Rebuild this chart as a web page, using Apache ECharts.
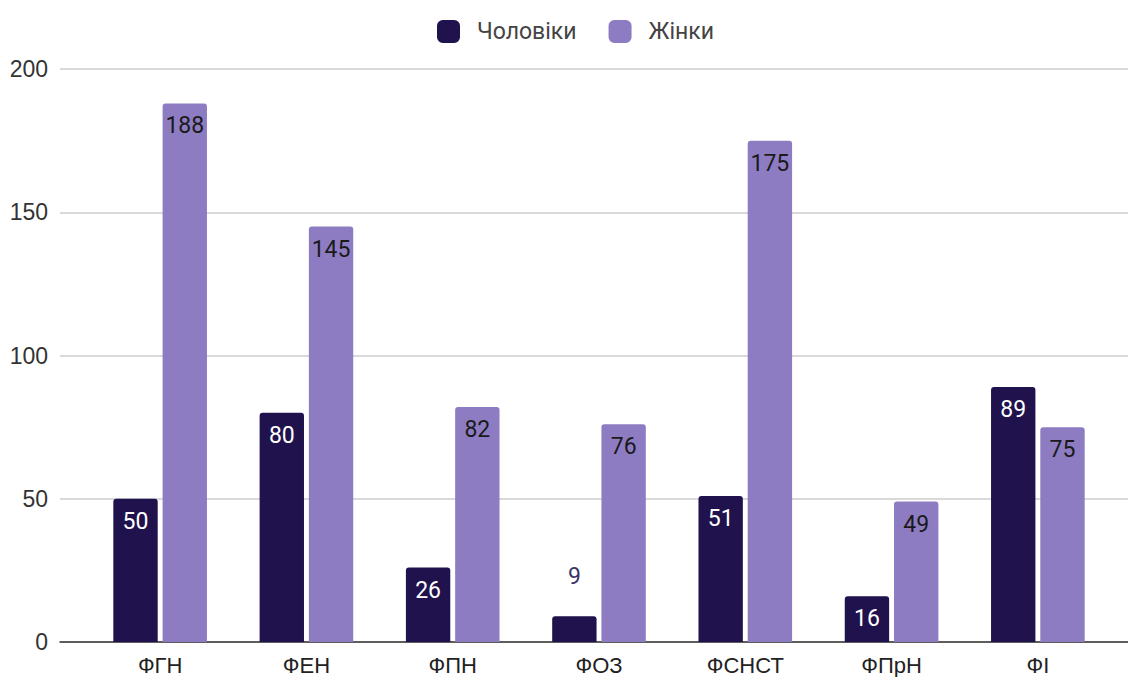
<!DOCTYPE html>
<html>
<head>
<meta charset="utf-8">
<script src="https://cdn.jsdelivr.net/npm/echarts@6/dist/echarts.min.js"></script>
<style>
  html, body { margin: 0; padding: 0; background: #fff; }
  #chart { width: 1128px; height: 677px; }
</style>
</head>
<body>
<div id="chart"></div>
<script>
var categories = ['ФГН', 'ФЕН', 'ФПН', 'ФОЗ', 'ФСНСТ', 'ФПрН', 'ФІ'];
var men = [50, 80, 26, 9, 51, 16, 89];
var women = [188, 145, 82, 76, 175, 49, 75];
var seriesNames = ['Чоловіки', 'Жінки'];

var dark = '#20124d';
var light = '#8e7cc3';
var font = 'Roboto, "Noto Sans", sans-serif';
var axisFont = '"Liberation Sans", Arial, sans-serif';

// short bars get their label above the bar
function toData(values, color, textColor) {
  return values.map(function(v) {
    if (v < 12) {
      return { value: v, label: { position: 'top', distance: 28, color: '#3a3366' } };
    }
    return { value: v, label: { color: textColor } };
  });
}

var chart = echarts.init(document.getElementById('chart'), null, { renderer: 'svg' });
chart.setOption({
  animation: false,
  textStyle: { fontFamily: font },
  legend: {
    data: seriesNames,
    top: 15,
    left: 432,
    itemWidth: 23,
    itemHeight: 23,
    itemGap: 32,
    icon: 'roundRect',
    textStyle: { color: '#444', fontSize: 23, fontFamily: font, padding: [0, 0, 0, 12] }
  },
  grid: [
    { left: 87, right: 17, top: 69, bottom: 35 },
    { left: 60, right: 0, top: 69, bottom: 35 }
  ],
  xAxis: [
    {
      gridIndex: 0,
      type: 'category',
      data: categories,
      axisLine: { show: false },
      axisTick: { show: false },
      axisLabel: { color: '#222', fontSize: 22, margin: 12, fontFamily: axisFont }
    },
    {
      gridIndex: 1,
      type: 'value',
      min: 0, max: 1,
      axisLine: { show: true, lineStyle: { color: '#333', width: 1.5 } },
      axisTick: { show: false },
      axisLabel: { show: false },
      splitLine: { show: false }
    }
  ],
  yAxis: [
    {
      gridIndex: 0,
      type: 'value', min: 0, max: 200, interval: 50,
      show: false,
      splitLine: { show: false }
    },
    {
      gridIndex: 1,
      type: 'value', min: 0, max: 200, interval: 50,
      axisLine: { show: false },
      axisTick: { show: false },
      axisLabel: { color: '#333', fontSize: 23, margin: 12, fontFamily: axisFont },
      splitLine: { lineStyle: { color: '#cccccc', width: 1.5 } }
    }
  ],
  series: [
    {
      name: seriesNames[0], type: 'bar', xAxisIndex: 0, yAxisIndex: 0,
      barGap: '11%', barCategoryGap: '36%',
      itemStyle: { color: dark, borderRadius: [3, 3, 0, 0] },
      label: { show: true, position: 'insideTop', distance: 11, fontSize: 23, fontFamily: font },
      data: toData(men, dark, '#ffffff')
    },
    {
      name: seriesNames[1], type: 'bar', xAxisIndex: 0, yAxisIndex: 0,
      itemStyle: { color: light, borderRadius: [3, 3, 0, 0] },
      label: { show: true, position: 'insideTop', distance: 11, fontSize: 23, fontFamily: font },
      data: toData(women, light, '#1a1a1a')
    }
  ]
});
</script>
</body>
</html>
